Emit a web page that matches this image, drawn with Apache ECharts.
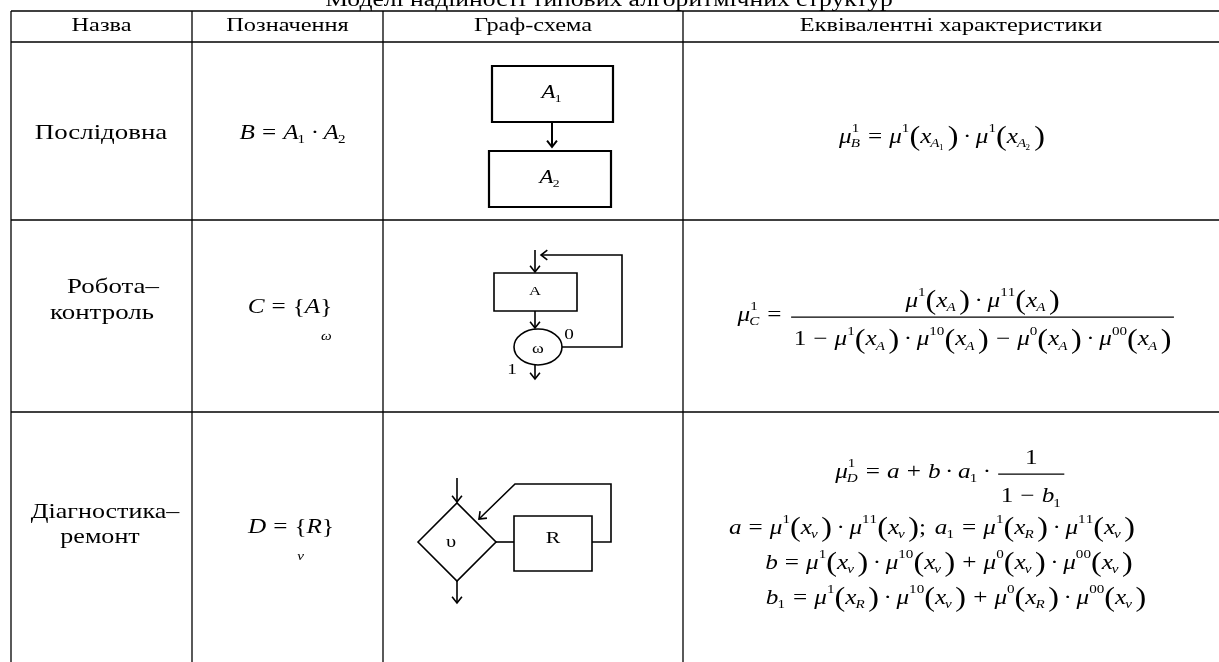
<!DOCTYPE html>
<html>
<head>
<meta charset="utf-8">
<script src="https://cdn.jsdelivr.net/npm/echarts@6/dist/echarts.min.js"></script>
<style>
  html, body { margin: 0; background: #fff; }
  #main { width: 1219px; height: 662px; }
</style>
</head>
<body>
<div id="main"></div>
<script>
// тексти таблиці
const title = 'Моделі надійності типових алгоритмічних структур';
const headers = ['Назва', 'Позначення', 'Граф-схема', 'Еквівалентні характеристики'];
const rowNames = [['Послідовна'], ['Робота–', 'контроль'], ['Діагностика–', 'ремонт']];
// формули: _[..] нижній індекс, ^[..] верхній, ![..] під символом, #[чис][знам] дріб, ~ пробіл
const notations = ['B = A_[1] · A_[2]', 'C = {A}![ω]', 'D = {![ν]R}'];
const formulas1 = ['μ^[1]_[B] = μ^[1](x_[A_[1]])· μ^[1](x_[A_[2]])'];
const formulas2 = ['μ^[1]_[C] = #[μ^[1](x_[A])·μ^[11](x_[A])][1 − μ^[1](x_[A])·μ^[10](x_[A]) − μ^[0](x_[A])·μ^[00](x_[A])]'];
const formulas3 = [
  'μ^[1]_[D] = a + b·a_[1]·#[1][1 − b_[1]]',
  'a = μ^[1](x_[ν])·μ^[11](x_[ν]);~a_[1] = μ^[1](x_[R])·μ^[11](x_[ν])',
  'b = μ^[1](x_[ν])·μ^[10](x_[ν]) + μ^[0](x_[ν])·μ^[00](x_[ν])',
  'b_[1] = μ^[1](x_[R])·μ^[10](x_[ν]) + μ^[0](x_[R])·μ^[00](x_[ν])'
];

const FONT = '"Liberation Serif", "Times New Roman", serif';
const SX = 1.28;   // картинка розтягнута по горизонталі
const FSX = 1.2;   // те саме для формул
const colX = [11, 192, 383, 683, 1219];
const rowY = [11, 42, 220, 412, 662];

const ctx = document.createElement('canvas').getContext('2d');
function measure(t, size, italic) {
  ctx.font = (italic ? 'italic ' : '') + size + 'px ' + FONT;
  return ctx.measureText(t).width * FSX;
}

function txt(t, x, y, size, opts) {
  opts = opts || {};
  const align = opts.align || 'center';
  return {
    type: 'text', x: x, y: y, scaleX: opts.sx || SX, silent: true,
    style: {
      text: t, fontSize: size, fontFamily: FONT,
      fontStyle: opts.italic ? 'italic' : 'normal',
      fill: '#000', align: align, textAlign: align,
      verticalAlign: 'middle', textVerticalAlign: 'middle'
    }
  };
}

// розбір формул
function parseSeq(s, st) {
  const out = [];
  while (st.i < s.length && s[st.i] !== ']') {
    const c = s[st.i++];
    if (c === ' ') continue;
    let node;
    if (c === '#') node = { frac: true, num: parseArg(s, st), den: parseArg(s, st) };
    else node = { ch: c };
    while (st.i < s.length && '^_!'.includes(s[st.i])) {
      const k = s[st.i++];
      const arg = parseArg(s, st);
      if (k === '^') node.sup = arg;
      else if (k === '_') node.sub = arg;
      else node.under = arg;
    }
    out.push(node);
  }
  return out;
}
function parseArg(s, st) {
  if (s[st.i] === '[') {
    st.i++;
    const r = parseSeq(s, st);
    st.i++;
    return r;
  }
  return [{ ch: s[st.i++] }];
}

function place(items, l, ox, ody) {
  l.items.forEach(function (it) {
    const c = Object.assign({}, it);
    c.x += ox; c.dy += ody;
    if (c.line) c.x2 += ox;
    items.push(c);
  });
}

function layoutSeq(seq, F, level) {
  let x = 0;
  const items = [];
  const em = F * FSX;
  seq.forEach(function (n) {
    if (n.frac) {
      const a = layoutSeq(n.num, F, level), b = layoutSeq(n.den, F, level);
      const pad = 0.1 * em;
      const w = Math.max(a.w, b.w) + 2 * pad;
      x += 0.1 * em;
      place(items, a, x + (w - a.w) / 2, -0.66 * F);
      place(items, b, x + (w - b.w) / 2, 1.18 * F);
      items.push({ line: true, x: x, x2: x + w, dy: 0.1 * F });
      x += w + 0.1 * em;
      return;
    }
    const c = n.ch;
    if (c === '~') { x += 0.3 * em; return; }
    let size = F, dy = 0, pre = 0, post = 0;
    const italic = /[A-Za-zα-ω]/.test(c);
    if ('=+−'.includes(c) && level === 0) { pre = post = 0.28 * em; }
    if (c === '·') { pre = 0.18 * em; post = 0.18 * em; }
    if ((c === '(' || c === ')') && level === 0) { size = 1.28 * F; dy = 0.04 * F; }
    if (c === ')' && level === 0) pre = 0.1 * em;
    if (c === ';') post = 0.05 * em;
    x += pre;
    const w = measure(c, size, italic);
    items.push({ t: c, x: x, dy: dy, size: size, italic: italic });
    let sw = 0;
    const sx = x + w;
    if (n.sup) {
      const l = layoutSeq(n.sup, F * 0.6, level + 1);
      place(items, l, sx, -0.4 * F);
      sw = Math.max(sw, l.w);
    }
    if (n.sub) {
      const l = layoutSeq(n.sub, F * 0.6, level + 1);
      place(items, l, sx - (italic ? 0.04 * em : 0), 0.32 * F);
      sw = Math.max(sw, l.w);
    }
    if (n.under) {
      const l = layoutSeq(n.under, F * 0.6, level + 1);
      place(items, l, x + (w - l.w) / 2, 1.4 * F);
    }
    x += w + sw + post;
  });
  return { w: x, items: items };
}

function formula(s, cx, cy, F, els) {
  const l = layoutSeq(parseSeq(s, { i: 0 }), F, 0);
  const x0 = cx - l.w / 2;
  l.items.forEach(function (it) {
    if (it.line) {
      els.push({ type: 'line', silent: true, shape: { x1: x0 + it.x, y1: cy + it.dy, x2: x0 + it.x2, y2: cy + it.dy },
        style: { stroke: '#000', lineWidth: 1.1 } });
    } else {
      els.push(txt(it.t, x0 + it.x, cy + it.dy, it.size, { italic: it.italic, align: 'left', sx: FSX }));
    }
  });
}

function poly(pts, lw) {
  return { type: 'polyline', silent: true, shape: { points: pts }, style: { stroke: '#000', lineWidth: lw, fill: null } };
}
function arrow(pts, lw, els) {
  els.push(poly(pts, lw));
  const q = pts[pts.length - 1], p = pts[pts.length - 2];
  const dx = q[0] - p[0], dy = q[1] - p[1], len = Math.sqrt(dx * dx + dy * dy);
  const ux = dx / len, uy = dy / len, L = 8, a = 38 * Math.PI / 180;
  const h = function (s) {
    const cs = Math.cos(s * a), sn = Math.sin(s * a);
    return [q[0] - L * (ux * cs - uy * sn), q[1] - L * (ux * sn + uy * cs)];
  };
  els.push(poly([h(1), q, h(-1)], lw));
}
function box(x, y, w, h, lw) {
  return { type: 'rect', silent: true, shape: { x: x, y: y, width: w, height: h }, style: { stroke: '#000', lineWidth: lw, fill: '#fff' } };
}

const els = [];

// сітка таблиці
rowY.slice(0, 4).forEach(function (y) {
  els.push({ type: 'line', silent: true, shape: { x1: colX[0], y1: y, x2: 1219, y2: y }, style: { stroke: '#000', lineWidth: 1.3 } });
});
colX.slice(0, 4).forEach(function (x) {
  els.push({ type: 'line', silent: true, shape: { x1: x, y1: rowY[0], x2: x, y2: 662 }, style: { stroke: '#000', lineWidth: 1.3 } });
});

els.push(txt(title, 609, 1, 20));
headers.forEach(function (h, i) {
  els.push(txt(h, (colX[i] + colX[i + 1]) / 2, 26, 19));
});

// назви
const nameY = [[133], [287, 313], [512, 537]];
const nameX = [[101], [113, 102], [105, 100]];
rowNames.forEach(function (lines, r) {
  lines.forEach(function (t, k) {
    els.push(txt(t, nameX[r][k], nameY[r][k], 21, { sx: r === 2 ? 1.24 : SX }));
  });
});

// позначення
formula(notations[0], 293, 133, 21, els);
formula(notations[1], 290, 307, 21, els);
formula(notations[2], 291, 527, 21, els);

// граф-схема 1
els.push(box(492, 66, 121, 56, 2.2));
arrow([[552, 122], [552, 147]], 2, els);
els.push(box(489, 151, 122, 56, 2.2));
formula('A_[1]', 552, 93, 19, els);
formula('A_[2]', 550, 178, 19, els);

// граф-схема 2
arrow([[535, 250], [535, 272]], 1.6, els);
els.push(box(494, 273, 83, 38, 1.6));
els.push(txt('A', 535, 292, 13));
arrow([[535, 311], [535, 328]], 1.6, els);
els.push({ type: 'ellipse', silent: true, shape: { cx: 538, cy: 347, rx: 24, ry: 18 }, style: { stroke: '#000', lineWidth: 1.6, fill: '#fff' } });
els.push(txt('ω', 538, 349, 14));
els.push(txt('0', 569, 335, 15));
arrow([[562, 347], [622, 347], [622, 255], [541, 255]], 1.6, els);
arrow([[535, 365], [535, 379]], 1.6, els);
els.push(txt('1', 512, 370, 15));

// граф-схема 3
els.push({ type: 'polygon', silent: true, shape: { points: [[418, 542], [457, 503], [496, 542], [457, 581]] }, style: { stroke: '#000', lineWidth: 1.6, fill: '#fff' } });
arrow([[457, 478], [457, 502]], 1.6, els);
arrow([[457, 581], [457, 603]], 1.6, els);
els.push(poly([[496, 542], [514, 542]], 1.6));
els.push(box(514, 516, 78, 55, 1.6));
arrow([[592, 542], [611, 542], [611, 484], [515, 484], [479, 519]], 1.6, els);
els.push(txt('υ', 451, 543, 16));
els.push(txt('R', 553, 539, 17));

// характеристики
formula(formulas1[0], 942, 137, 21, els);
formula(formulas2[0], 957, 315, 21, els);
const f3x = [951, 932, 949, 956], f3y = [472, 528, 563, 598];
formulas3.forEach(function (f, i) { formula(f, f3x[i], f3y[i], 21, els); });

const myChart = echarts.init(document.getElementById('main'));
myChart.setOption({
  backgroundColor: '#fff',
  animation: false,
  graphic: { elements: els }
});
</script>
</body>
</html>
